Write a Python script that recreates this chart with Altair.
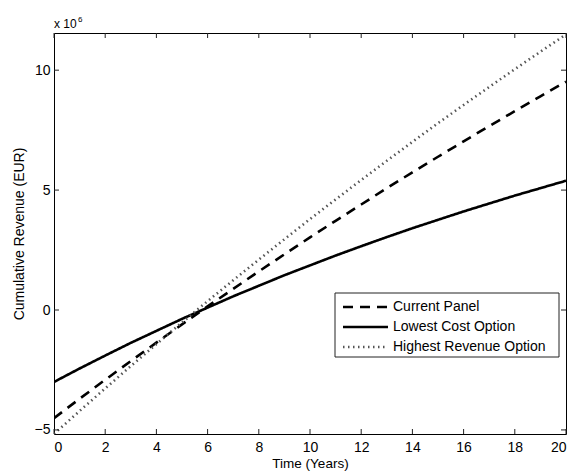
import altair as alt
import pandas as pd

# ---- data (values in millions of EUR) ----
years = list(range(21))
current_panel = [-4.51, -3.70, -2.91, -2.13, -1.36, -0.60, 0.15, 0.88, 1.61, 2.32, 3.03,
                 3.72, 4.40, 5.08, 5.74, 6.39, 7.03, 7.67, 8.29, 8.91, 9.52]
lowest_cost = [-3.00, -2.44, -1.90, -1.37, -0.87, -0.37, 0.10, 0.57, 1.01, 1.45, 1.86,
               2.27, 2.66, 3.04, 3.41, 3.76, 4.11, 4.44, 4.77, 5.08, 5.39]
highest_revenue = [-5.17, -4.21, -3.27, -2.34, -1.42, -0.52, 0.37, 1.24, 2.10, 2.95, 3.79,
                   4.61, 5.42, 6.22, 7.01, 7.79, 8.55, 9.30, 10.04, 10.77, 11.49]
series_names = ["Current Panel", "Lowest Cost Option", "Highest Revenue Option"]
x_ticks = [0, 2, 4, 6, 8, 10, 12, 14, 16, 18, 20]
y_ticks = [-5, 0, 5, 10]

W, H = 512, 401
FONT = "Liberation Sans"

rows = []
for name, vals in zip(series_names, [current_panel, lowest_cost, highest_revenue]):
    for t, v in zip(years, vals):
        rows.append({"series": name, "year": t, "revenue": v})
df = pd.DataFrame(rows)

xs = alt.Scale(domain=[0, 20], nice=False, zero=False)
ys = alt.Scale(domain=[-5.17, 11.55], nice=False, zero=False)
axis_style = dict(ticks=False, domain=False, grid=False, labelFont=FONT, titleFont=FONT,
                  labelFontSize=14, labelColor="black", titleColor="black",
                  titleFontWeight="normal")
x_axis = alt.Axis(values=x_ticks, format="d", labelPadding=6, titlePadding=2,
                  titleFontSize=13.5, **axis_style)
y_axis = alt.Axis(values=y_ticks, format="d", labelPadding=4, titlePadding=8,
                  titleFontSize=14, **axis_style)
X_TITLE = "Time (Years)"
Y_TITLE = "Cumulative Revenue (EUR)"

dash_scale = alt.Scale(domain=series_names, range=[[10, 7], [1, 0], [1.5, 3.5]])
color_scale = alt.Scale(domain=series_names, range=["#000000", "#000000", "#555555"])
width_scale = alt.Scale(domain=series_names, range=[2.6, 2.6, 1.3])

lines = alt.Chart(df).mark_line(clip=True).encode(
    x=alt.X("year:Q", scale=xs, title=X_TITLE, axis=x_axis),
    y=alt.Y("revenue:Q", scale=ys, title=Y_TITLE, axis=y_axis),
    strokeDash=alt.StrokeDash("series:N", scale=dash_scale, legend=None),
    color=alt.Color("series:N", scale=color_scale, legend=None),
    strokeWidth=alt.StrokeWidth("series:N", scale=width_scale, legend=None),
    detail="series:N",
)

xt = pd.DataFrame({"year": x_ticks})
yt = pd.DataFrame({"revenue": y_ticks})
tick_color = "#222222"
xb = alt.Chart(xt).mark_rule(color=tick_color, strokeWidth=1).encode(
    x=alt.X("year:Q", scale=xs, title=X_TITLE, axis=x_axis), y=alt.value(H), y2=alt.value(H - 5))
xtop = alt.Chart(xt).mark_rule(color=tick_color, strokeWidth=1).encode(
    x=alt.X("year:Q", scale=xs, title=X_TITLE, axis=x_axis), y=alt.value(0), y2=alt.value(5))
yl = alt.Chart(yt).mark_rule(color=tick_color, strokeWidth=1).encode(
    y=alt.Y("revenue:Q", scale=ys, title=Y_TITLE, axis=y_axis), x=alt.value(0), x2=alt.value(5))
yr = alt.Chart(yt).mark_rule(color=tick_color, strokeWidth=1).encode(
    y=alt.Y("revenue:Q", scale=ys, title=Y_TITLE, axis=y_axis), x=alt.value(W), x2=alt.value(W - 5))

# ---- legend (drawn manually, matlab style) ----
leg_df = pd.DataFrame({"series": series_names, "idx": list(range(len(series_names)))})
leg_box = alt.Chart(pd.DataFrame({"a": [0]})).mark_rect(
    fill="white", stroke="#222222", strokeWidth=1).encode(
    x=alt.value(281), x2=alt.value(505), y=alt.value(260), y2=alt.value(324))
leg_base = alt.Chart(leg_df).transform_calculate(ly="274 + 20 * datum.idx")
leg_lines = leg_base.mark_rule().encode(
    x=alt.value(289), x2=alt.value(334), y=alt.Y("ly:Q", scale=None),
    strokeDash=alt.StrokeDash("series:N", scale=dash_scale, legend=None),
    color=alt.Color("series:N", scale=color_scale, legend=None),
    strokeWidth=alt.StrokeWidth("series:N", scale=width_scale, legend=None),
)
leg_text = leg_base.mark_text(align="left", baseline="middle", fontSize=14, font=FONT,
                              color="black").encode(
    x=alt.value(339), y=alt.Y("ly:Q", scale=None), text="series:N")

# ---- exponent label ----
one = pd.DataFrame({"a": [0]})
exp_main = alt.Chart(one).mark_text(align="left", baseline="alphabetic", fontSize=12,
                                    font=FONT, color="black").encode(
    x=alt.value(0), y=alt.value(-5), text=alt.value("x 10"))
exp_sup = alt.Chart(one).mark_text(align="left", baseline="alphabetic", fontSize=8,
                                   font=FONT, color="black").encode(
    x=alt.value(24), y=alt.value(-11), text=alt.value("6"))

chart = alt.layer(lines, xb, xtop, yl, yr, leg_box, leg_lines, leg_text, exp_main, exp_sup).properties(
    width=W, height=H,
    background="white",
    autosize=alt.AutoSizeParams(type="none"),
    padding={"left": 54, "top": 33, "right": 8, "bottom": 38},
).configure_view(stroke="#000000", strokeWidth=1)

chart.save("out.html", embed_options={"renderer": "svg", "actions": False})
